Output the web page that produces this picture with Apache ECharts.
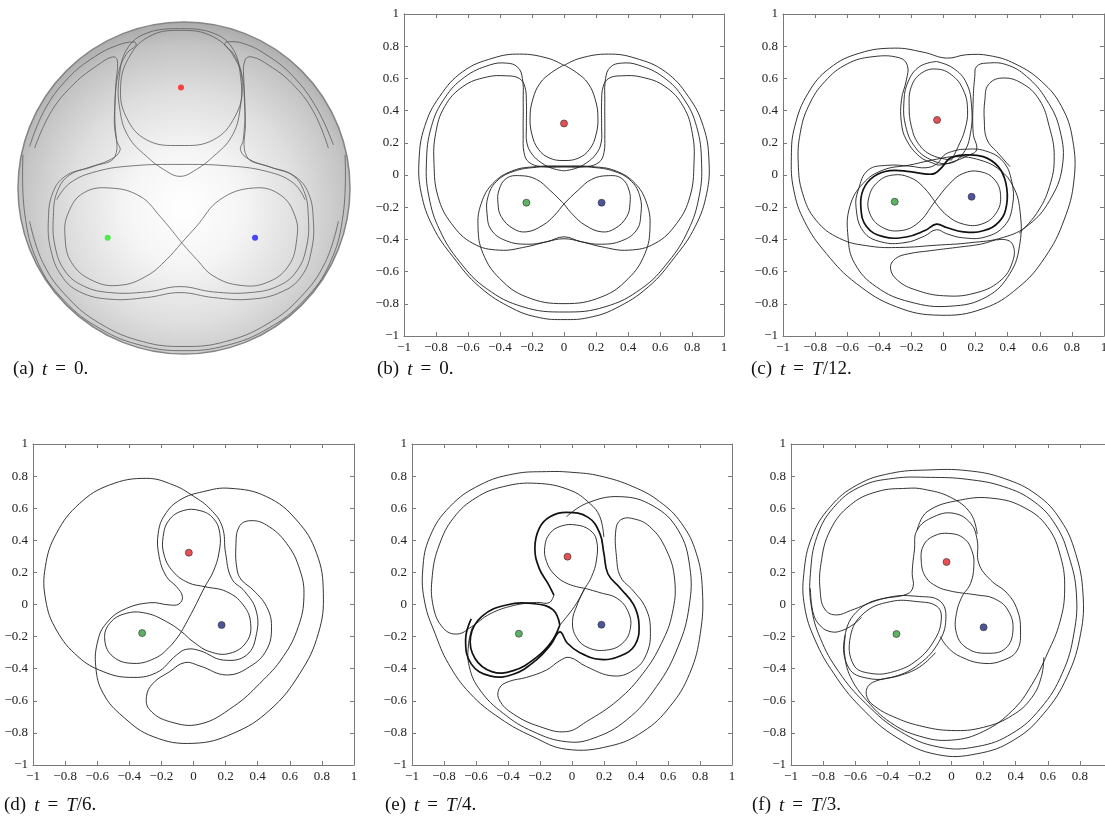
<!DOCTYPE html>
<html>
<head>
<meta charset="utf-8">
<script src="https://cdn.jsdelivr.net/npm/echarts@6/dist/echarts.min.js"></script>
<style>
  html, body { margin: 0; background: #fff; overflow: hidden; }
  #main { width: 1130px; height: 820px; }
</style>
</head>
<body>
<div id="main"></div>
<script>
// captions
const captionLetters = ['a', 'b', 'c', 'd', 'e', 'f']
const captionTimes = ['0', '0', 'T/12', 'T/6', 'T/4', 'T/3']

// (a) sphere view, unit radius
const sphere = [0, 0, 1]
const aRedLoop = [[-0.024,0.95],[0.177,0.91],[0.307,0.78],[0.351,0.61],[0.307,0.43],[0.177,0.29],[-0.024,0.256],[-0.225,0.29],[-0.349,0.43],[-0.382,0.61],[-0.335,0.78],[-0.215,0.91],[-0.024,0.95]]
const aVLoop = [[-0.024,0.96],[-0.205,0.94],[-0.335,0.85],[-0.39,0.67],[-0.386,0.47],[-0.335,0.31],[-0.225,0.19],[-0.104,0.1],[-0.024,0.07],[0.056,0.1],[0.177,0.19],[0.287,0.31],[0.337,0.47],[0.341,0.67],[0.287,0.85],[0.157,0.94],[-0.024,0.96]]
const aOmega = [[-0.93,0.25],[-0.84,0.47],[-0.7,0.66],[-0.54,0.79],[-0.4,0.86],[-0.3,0.88],[-0.289,0.86],[-0.345,0.81],[-0.396,0.69],[-0.416,0.49],[-0.406,0.29],[-0.386,0.226],[-0.446,0.17],[-0.586,0.12],[-0.717,0.07],[-0.791,-0.03],[-0.817,-0.19],[-0.803,-0.37],[-0.737,-0.53],[-0.627,-0.626],[-0.446,-0.67],[-0.225,-0.66],[-0.024,-0.63],[0.177,-0.66],[0.398,-0.67],[0.588,-0.626],[0.709,-0.53],[0.769,-0.37],[0.779,-0.19],[0.749,-0.03],[0.669,0.07],[0.538,0.12],[0.398,0.17],[0.341,0.226],[0.357,0.29],[0.367,0.49],[0.347,0.69],[0.297,0.81],[0.247,0.86],[0.257,0.88],[0.36,0.87],[0.5,0.8],[0.66,0.67],[0.8,0.48],[0.9,0.26]]
const aOmega2 = [[-0.9,0.24],[-0.8,0.46],[-0.66,0.63],[-0.52,0.74],[-0.43,0.79],[-0.402,0.77],[-0.41,0.63],[-0.42,0.4],[-0.416,0.19],[-0.546,0.13],[-0.687,0.08],[-0.763,-0.02],[-0.787,-0.17],[-0.777,-0.35],[-0.717,-0.5],[-0.606,-0.59],[-0.446,-0.63],[-0.225,-0.626],[-0.024,-0.594],[0.177,-0.626],[0.398,-0.63],[0.568,-0.59],[0.679,-0.5],[0.739,-0.35],[0.749,-0.17],[0.723,-0.02],[0.649,0.08],[0.508,0.13],[0.378,0.19],[0.37,0.4],[0.361,0.63],[0.367,0.77],[0.408,0.79],[0.51,0.74],[0.65,0.63],[0.78,0.46],[0.87,0.24]]
const aTopLine = [[-0.767,-0.07],[-0.687,0.03],[-0.526,0.1],[-0.305,0.134],[-0.024,0.142],[0.257,0.134],[0.498,0.1],[0.659,0.03],[0.729,-0.07]]
const aFig8 = [[-0.014,-0.33],[-0.145,-0.17],[-0.265,-0.05],[-0.446,0],[-0.606,-0.03],[-0.697,-0.15],[-0.717,-0.29],[-0.677,-0.45],[-0.546,-0.56],[-0.386,-0.586],[-0.225,-0.53],[-0.104,-0.43],[-0.014,-0.33],[0.076,-0.23],[0.217,-0.07],[0.418,0],[0.578,-0.04],[0.669,-0.17],[0.679,-0.31],[0.629,-0.47],[0.498,-0.57],[0.337,-0.586],[0.177,-0.53],[0.076,-0.43],[-0.014,-0.33]]
const aRim1 = [[-0.93,-0.2],[-0.85,-0.45],[-0.7,-0.66],[-0.5,-0.82],[-0.25,-0.925],[0,-0.955],[0.25,-0.925],[0.5,-0.82],[0.7,-0.66],[0.85,-0.45],[0.93,-0.2]]
const aRim2 = [[-0.97,0.2],[-0.96,-0.15],[-0.88,-0.45],[-0.72,-0.68],[-0.5,-0.85],[-0.25,-0.95],[0,-0.98],[0.25,-0.95],[0.5,-0.85],[0.72,-0.68],[0.88,-0.45],[0.96,-0.15],[0.97,0.2]]
const aRed = [-0.018, 0.606]
const aGreen = [-0.46, -0.3]
const aBlue = [0.428, -0.3]

// (b) t = 0
const bHeart = [[0,0.68],[-0.1,0.725],[-0.277,0.751],[-0.444,0.726],[-0.631,0.643],[-0.777,0.488],[-0.871,0.301],[-0.906,0.093],[-0.892,-0.114],[-0.819,-0.322],[-0.694,-0.508],[-0.527,-0.695],[-0.319,-0.83],[-0.152,-0.886],[0,-0.898],[0.152,-0.886],[0.319,-0.83],[0.527,-0.695],[0.694,-0.508],[0.819,-0.322],[0.892,-0.114],[0.906,0.093],[0.871,0.301],[0.777,0.488],[0.631,0.643],[0.444,0.726],[0.277,0.751],[0.1,0.725],[0,0.68]]
const bLens = [[0,0.683],[-0.08,0.635],[-0.15,0.57],[-0.195,0.47],[-0.212,0.36],[-0.2,0.25],[-0.16,0.16],[-0.09,0.105],[0,0.09],[0.09,0.105],[0.16,0.16],[0.2,0.25],[0.212,0.36],[0.195,0.47],[0.15,0.57],[0.08,0.635],[0,0.683]]
const bRing2 = [[0,0.05],[-0.14,0.052],[-0.22,0.08],[-0.25,0.14],[-0.255,0.25],[-0.255,0.45],[-0.26,0.6],[-0.29,0.67],[-0.36,0.695],[-0.465,0.683],[-0.621,0.608],[-0.746,0.477],[-0.829,0.3],[-0.86,0.073],[-0.844,-0.135],[-0.777,-0.342],[-0.652,-0.539],[-0.485,-0.705],[-0.256,-0.819],[0,-0.851],[0.256,-0.819],[0.485,-0.705],[0.652,-0.539],[0.777,-0.342],[0.844,-0.135],[0.86,0.073],[0.829,0.3],[0.746,0.477],[0.621,0.608],[0.465,0.683],[0.36,0.695],[0.29,0.67],[0.26,0.6],[0.255,0.45],[0.255,0.25],[0.25,0.14],[0.22,0.08],[0.14,0.052],[0,0.05]]
const bRing3 = [[0,0.026],[-0.07,0.04],[-0.14,0.075],[-0.2,0.13],[-0.232,0.2],[-0.235,0.3],[-0.235,0.45],[-0.245,0.55],[-0.28,0.6],[-0.36,0.616],[-0.485,0.608],[-0.631,0.55],[-0.746,0.425],[-0.802,0.259],[-0.8125,0.073],[-0.787,-0.135],[-0.704,-0.301],[-0.569,-0.425],[-0.402,-0.467],[-0.235,-0.446],[-0.11,-0.415],[0,-0.396],[0.11,-0.415],[0.235,-0.446],[0.402,-0.467],[0.569,-0.425],[0.704,-0.301],[0.787,-0.135],[0.8125,0.073],[0.802,0.259],[0.746,0.425],[0.631,0.55],[0.485,0.608],[0.36,0.616],[0.28,0.6],[0.245,0.55],[0.235,0.45],[0.235,0.3],[0.232,0.2],[0.2,0.13],[0.14,0.075],[0.07,0.04],[0,0.026]]
const bPeanut = [[0,0.052],[-0.173,0.048],[-0.319,0.021],[-0.423,-0.041],[-0.475,-0.135],[-0.481,-0.239],[-0.454,-0.342],[-0.36,-0.409],[-0.235,-0.43],[-0.11,-0.415],[0,-0.384],[0.11,-0.415],[0.235,-0.43],[0.36,-0.409],[0.454,-0.342],[0.481,-0.239],[0.475,-0.135],[0.423,-0.041],[0.319,0.021],[0.173,0.048],[0,0.052]]
const bLower = [[0,0.056],[-0.173,0.052],[-0.319,0.027],[-0.444,-0.052],[-0.517,-0.176],[-0.5375,-0.322],[-0.506,-0.488],[-0.402,-0.643],[-0.235,-0.757],[0,-0.799],[0.235,-0.757],[0.402,-0.643],[0.506,-0.488],[0.5375,-0.322],[0.517,-0.176],[0.444,-0.052],[0.319,0.027],[0.173,0.052],[0,0.056]]
const bFig8 = [[0,-0.18],[-0.09,-0.093],[-0.173,-0.027],[-0.277,-0.004],[-0.36,-0.021],[-0.406,-0.093],[-0.4125,-0.176],[-0.392,-0.259],[-0.319,-0.332],[-0.235,-0.353],[-0.131,-0.311],[-0.058,-0.249],[0,-0.18],[0.09,-0.093],[0.173,-0.027],[0.277,-0.004],[0.36,-0.021],[0.406,-0.093],[0.4125,-0.176],[0.392,-0.259],[0.319,-0.332],[0.235,-0.353],[0.131,-0.311],[0.058,-0.249],[0,-0.18]]
const bRed = [0, 0.32]
const bGreen = [-0.235, -0.172]
const bBlue = [0.235, -0.172]

// (c) t = T/12
const cOuter = [[-0.304,0.788],[-0.522,0.757],[-0.709,0.664],[-0.844,0.508],[-0.927,0.301],[-0.948,0.114],[-0.933,-0.093],[-0.865,-0.29],[-0.73,-0.488],[-0.543,-0.674],[-0.293,-0.819],[-0.023,-0.871],[0.247,-0.83],[0.466,-0.699],[0.632,-0.512],[0.751,-0.28],[0.813,-0.031],[0.805,0.218],[0.736,0.425],[0.611,0.581],[0.445,0.691],[0.289,0.741],[0.143,0.747],[0.019,0.726],[-0.127,0.763],[-0.304,0.788]]
const cRing3 = [[-0.023,0.062],[-0.064,0.073],[-0.148,0.114],[-0.231,0.218],[-0.262,0.322],[-0.262,0.467],[-0.231,0.591],[-0.225,0.68],[-0.275,0.728],[-0.439,0.735],[-0.6,0.69],[-0.74,0.58],[-0.84,0.43],[-0.893,0.259],[-0.905,0.073],[-0.878,-0.114],[-0.795,-0.28],[-0.647,-0.394],[-0.459,-0.442],[-0.272,-0.45],[-0.044,-0.436],[0.164,-0.421],[0.372,-0.388],[0.53,-0.31],[0.66,-0.16],[0.74,0.05],[0.725,0.28],[0.64,0.47],[0.518,0.612],[0.393,0.685],[0.268,0.695],[0.206,0.674],[0.195,0.612],[0.185,0.467],[0.185,0.259],[0.206,0.156],[0.15,0.12],[0.08,0.09],[-0.023,0.062]]
const cLens = [[-0.044,0.705],[-0.148,0.674],[-0.22,0.581],[-0.247,0.446],[-0.235,0.301],[-0.179,0.176],[-0.085,0.098],[0.04,0.073],[0.123,0.135],[0.168,0.259],[0.175,0.425],[0.143,0.571],[0.06,0.664],[-0.044,0.705]]
const cRedLoop = [[0.05,0.093],[0.091,0.176],[0.133,0.28],[0.15,0.405],[0.123,0.529],[0.05,0.622],[-0.044,0.658],[-0.137,0.633],[-0.2,0.55],[-0.214,0.425],[-0.2,0.301],[-0.158,0.197],[-0.075,0.124],[0.05,0.093]]
const cFig8 = [[-0.054,-0.166],[-0.127,-0.073],[-0.21,-0.015],[-0.314,0],[-0.407,-0.041],[-0.464,-0.135],[-0.459,-0.239],[-0.387,-0.322],[-0.272,-0.346],[-0.158,-0.297],[-0.054,-0.166],[0.04,-0.052],[0.123,0.01],[0.227,0.021],[0.32,-0.031],[0.356,-0.135],[0.326,-0.239],[0.237,-0.305],[0.123,-0.305],[0.019,-0.249],[-0.054,-0.166]]
const cBold = [[-0.5,-0.09],[-0.435,-0.01],[-0.335,0.027],[-0.21,0.021],[-0.106,0.006],[-0.054,0.01],[-0.006,0.052],[0.04,0.104],[0.123,0.124],[0.247,0.114],[0.341,0.052],[0.389,-0.052],[0.393,-0.187],[0.347,-0.29],[0.247,-0.346],[0.123,-0.353],[0.019,-0.326],[-0.044,-0.305],[-0.116,-0.345],[-0.231,-0.385],[-0.376,-0.383],[-0.48,-0.32],[-0.515,-0.2],[-0.5,-0.09]]
const cThin = [[-0.53,-0.09],[-0.47,0.03],[-0.35,0.06],[-0.21,0.055],[-0.11,0.045],[-0.04,0.07],[0,0.12],[0.05,0.145],[0.13,0.16],[0.26,0.15],[0.37,0.085],[0.425,-0.04],[0.43,-0.19],[0.38,-0.315],[0.26,-0.385],[0.12,-0.39],[0.02,-0.365],[-0.045,-0.34],[-0.12,-0.38],[-0.24,-0.42],[-0.39,-0.415],[-0.5,-0.35],[-0.545,-0.2],[-0.53,-0.09]]
const cLower = [[-0.584,-0.197],[-0.595,-0.384],[-0.553,-0.55],[-0.418,-0.695],[-0.21,-0.788],[0.04,-0.815],[0.268,-0.757],[0.414,-0.612],[0.476,-0.425],[0.476,-0.218],[0.435,-0.073],[0.351,0.031],[0.227,0.093],[0.081,0.114],[-0.044,0.098],[-0.21,0.062],[-0.376,0.031],[-0.501,-0.052],[-0.584,-0.197]]
const cKidney = [[-0.33,-0.58],[-0.3,-0.52],[-0.22,-0.49],[-0.08,-0.47],[0.08,-0.45],[0.23,-0.43],[0.36,-0.4],[0.43,-0.43],[0.43,-0.54],[0.35,-0.66],[0.19,-0.735],[0,-0.75],[-0.17,-0.715],[-0.285,-0.655],[-0.33,-0.58]]
const cBean = [[0.414,0.052],[0.341,0.135],[0.272,0.218],[0.254,0.342],[0.258,0.467],[0.279,0.56],[0.362,0.602],[0.486,0.571],[0.597,0.467],[0.659,0.301],[0.69,0.114],[0.66,-0.073],[0.58,-0.239],[0.47,-0.363]]
const cRed = [-0.04, 0.342]
const cGreen = [-0.304, -0.166]
const cBlue = [0.175, -0.135]

// (d) t = T/6
const dLeft = [[-0.293,0.786],[-0.522,0.745],[-0.709,0.63],[-0.854,0.443],[-0.923,0.236],[-0.921,0.028],[-0.854,-0.159],[-0.719,-0.325],[-0.563,-0.418],[-0.397,-0.454],[-0.231,-0.425],[-0.106,-0.315],[-0.044,-0.279],[0.04,-0.288],[0.185,-0.346],[0.331,-0.315],[0.393,-0.18],[0.389,-0.034],[0.32,0.08],[0.237,0.163],[0.2,0.319],[0.179,0.485],[0.106,0.593],[-0.002,0.676],[-0.127,0.745],[-0.293,0.786]]
const dRight = [[0.227,0.724],[0.455,0.672],[0.642,0.526],[0.767,0.319],[0.809,0.07],[0.778,-0.18],[0.663,-0.429],[0.476,-0.657],[0.247,-0.803],[-0.002,-0.865],[-0.252,-0.823],[-0.439,-0.699],[-0.563,-0.553],[-0.609,-0.387],[-0.595,-0.221],[-0.543,-0.117],[-0.439,-0.034],[-0.272,0.011],[-0.148,-0.003],[-0.091,0.003],[-0.069,0.049],[-0.106,0.111],[-0.168,0.173],[-0.214,0.298],[-0.22,0.443],[-0.179,0.558],[-0.085,0.651],[0.06,0.703],[0.227,0.724]]
const dTrefoil = [[-0.075,-0.169],[-0.002,-0.034],[0.071,0.111],[0.123,0.205],[0.158,0.319],[0.164,0.443],[0.123,0.537],[0.04,0.585],[-0.064,0.585],[-0.152,0.526],[-0.189,0.423],[-0.183,0.308],[-0.127,0.205],[-0.033,0.136],[0.071,0.111],[0.206,0.08],[0.31,-0.003],[0.356,-0.117],[0.331,-0.232],[0.227,-0.304],[0.102,-0.294],[-0.002,-0.232],[-0.075,-0.169],[-0.168,-0.107],[-0.293,-0.055],[-0.418,-0.055],[-0.522,-0.117],[-0.553,-0.221],[-0.501,-0.325],[-0.376,-0.367],[-0.241,-0.335],[-0.148,-0.263],[-0.075,-0.169]]
const dBean = [[0.272,0.215],[0.264,0.36],[0.285,0.485],[0.351,0.522],[0.455,0.495],[0.58,0.381],[0.663,0.215],[0.688,0.049],[0.653,-0.138],[0.559,-0.325],[0.414,-0.491],[0.247,-0.637],[0.04,-0.745],[-0.148,-0.73],[-0.272,-0.657],[-0.293,-0.574],[-0.252,-0.491],[-0.148,-0.418],[-0.054,-0.362],[0.04,-0.383],[0.206,-0.439],[0.351,-0.387],[0.455,-0.283],[0.486,-0.138],[0.455,-0.013],[0.372,0.09],[0.299,0.153],[0.272,0.215]]
const dRed = [-0.029, 0.323]
const dGreen = [-0.32, -0.178]
const dBlue = [0.175, -0.128]

// (e) t = T/4
const eOuter = [[-0.159,0.828],[-0.367,0.813],[-0.575,0.745],[-0.763,0.61],[-0.888,0.423],[-0.933,0.215],[-0.919,0.007],[-0.856,-0.18],[-0.773,-0.367],[-0.638,-0.553],[-0.45,-0.709],[-0.243,-0.824],[-0.034,-0.902],[0.236,-0.882],[0.444,-0.792],[0.611,-0.637],[0.736,-0.429],[0.802,-0.18],[0.815,0.09],[0.777,0.319],[0.684,0.506],[0.548,0.641],[0.382,0.734],[0.174,0.801],[0.007,0.823],[-0.159,0.828]]
const eSweepTop = [[0.199,0.42],[0.174,0.547],[0.111,0.63],[-0.014,0.713],[-0.222,0.755],[-0.43,0.734],[-0.6,0.665],[-0.74,0.54],[-0.83,0.37],[-0.873,0.18],[-0.867,-0.013],[-0.804,-0.148],[-0.717,-0.184],[-0.627,-0.138],[-0.513,-0.059],[-0.367,-0.007],[-0.222,0.013],[-0.143,0.011],[-0.113,0.059]]
const eSweepBold = [[-0.113,0.059],[-0.149,0.128],[-0.205,0.225],[-0.232,0.35],[-0.205,0.475],[-0.138,0.547],[-0.034,0.574],[0.101,0.543],[0.174,0.443],[0.199,0.32],[0.225,0.19],[0.303,0.1],[0.386,-0.003],[0.419,-0.128],[0.393,-0.253],[0.305,-0.319],[0.176,-0.342],[0.049,-0.3],[-0.03,-0.24],[-0.076,-0.17],[-0.133,-0.25],[-0.222,-0.345],[-0.367,-0.435],[-0.513,-0.445],[-0.63,-0.37],[-0.665,-0.22],[-0.63,-0.09]]
const eRedLoop = [[0.08,0.101],[0.122,0.173],[0.153,0.277],[0.153,0.402],[0.111,0.464],[0.028,0.495],[-0.066,0.489],[-0.138,0.443],[-0.17,0.36],[-0.159,0.267],[-0.107,0.184],[-0.024,0.128],[0.08,0.101]]
const eBlueLoop = [[0.08,0.101],[0.174,0.074],[0.282,0.038],[0.351,-0.045],[0.365,-0.148],[0.315,-0.242],[0.215,-0.284],[0.101,-0.269],[0.028,-0.205],[0.003,-0.107],[0.032,-0.003],[0.08,0.101]]
const eDiag = [[0.08,0.101],[0.028,0.007],[-0.024,-0.065],[-0.076,-0.128]]
const eGreenLoop = [[-0.076,-0.128],[-0.118,-0.034],[-0.222,0.003],[-0.409,-0.003],[-0.565,-0.076],[-0.634,-0.2],[-0.607,-0.335],[-0.502,-0.418],[-0.367,-0.412],[-0.222,-0.329],[-0.128,-0.232],[-0.076,-0.128]]
const eRight = [[-0.034,0.547],[0.09,0.63],[0.299,0.672],[0.507,0.614],[0.663,0.464],[0.736,0.236],[0.732,-0.013],[0.663,-0.263],[0.528,-0.512],[0.34,-0.72],[0.132,-0.834],[-0.034,-0.855],[-0.243,-0.792],[-0.43,-0.678],[-0.575,-0.533],[-0.642,-0.387],[-0.646,-0.242],[-0.621,-0.138]]
const eCrescent = [[0.278,0.298],[0.274,0.464],[0.303,0.526],[0.372,0.537],[0.486,0.485],[0.59,0.339],[0.642,0.152],[0.627,-0.055],[0.559,-0.242],[0.444,-0.429],[0.288,-0.595],[0.09,-0.73],[-0.034,-0.792],[-0.201,-0.761],[-0.367,-0.682],[-0.454,-0.595],[-0.454,-0.522],[-0.398,-0.481],[-0.284,-0.454],[-0.159,-0.408],[-0.076,-0.35],[-0.014,-0.33],[0.09,-0.387],[0.257,-0.445],[0.382,-0.41],[0.465,-0.31],[0.49,-0.159],[0.461,-0.023],[0.382,0.086],[0.303,0.173],[0.278,0.298]]
const eRed = [-0.028, 0.298]
const eGreen = [-0.332, -0.182]
const eBlue = [0.184, -0.126]

// (f) t = T/3
const fOuter = [[-0.152,0.838],[-0.38,0.817],[-0.588,0.745],[-0.755,0.609],[-0.869,0.423],[-0.92,0.194],[-0.915,-0.014],[-0.85,-0.221],[-0.734,-0.429],[-0.568,-0.637],[-0.339,-0.83],[-0.089,-0.935],[0.16,-0.93],[0.389,-0.844],[0.576,-0.678],[0.721,-0.449],[0.805,-0.179],[0.819,0.07],[0.773,0.319],[0.68,0.526],[0.534,0.682],[0.326,0.786],[0.098,0.834],[-0.152,0.838]]
const fRing2 = [[-0.36,0.786],[-0.568,0.734],[-0.734,0.605],[-0.838,0.423],[-0.879,0.194],[-0.873,-0.014],[-0.817,-0.211],[-0.703,-0.418],[-0.536,-0.615],[-0.318,-0.792],[-0.079,-0.888],[0.16,-0.885],[0.378,-0.803],[0.555,-0.647],[0.69,-0.429],[0.763,-0.179],[0.778,0.07],[0.732,0.298],[0.649,0.495],[0.514,0.641],[0.326,0.734],[0.098,0.78],[-0.131,0.792],[-0.36,0.786]]
const fSweep = [[0.16,0.44],[0.119,0.568],[-0.006,0.668],[-0.173,0.718],[-0.277,0.724],[-0.464,0.703],[-0.63,0.62],[-0.755,0.464],[-0.813,0.256],[-0.817,0.07],[-0.786,-0.034],[-0.717,-0.065],[-0.63,-0.038],[-0.443,0.032],[-0.277,0.065],[-0.239,0.111],[-0.245,0.194],[-0.231,0.34],[-0.214,0.464],[-0.11,0.547],[0.015,0.568],[0.119,0.506],[0.16,0.402],[0.17,0.256],[0.243,0.153],[0.347,0.07],[0.41,-0.034],[0.43,-0.159],[0.41,-0.284],[0.326,-0.346],[0.202,-0.367],[0.056,-0.325],[-0.027,-0.263],[-0.069,-0.2]]
const fRedLoop = [[0.077,0.07],[0.119,0.132],[0.139,0.236],[0.129,0.329],[0.077,0.412],[-0.017,0.443],[-0.11,0.427],[-0.173,0.371],[-0.189,0.277],[-0.162,0.173],[-0.089,0.111],[-0.006,0.084],[0.077,0.07]]
const fBlueLoop = [[0.077,0.07],[0.035,-0.034],[0.031,-0.18],[0.098,-0.273],[0.222,-0.304],[0.337,-0.273],[0.383,-0.159],[0.351,-0.034],[0.264,0.038],[0.16,0.059],[0.077,0.07]]
const fGreenLoop = [[-0.63,-0.2],[-0.547,-0.055],[-0.38,0.018],[-0.214,0.018],[-0.089,-0.013],[-0.064,-0.097],[-0.106,-0.221],[-0.214,-0.346],[-0.36,-0.418],[-0.505,-0.429],[-0.609,-0.377],[-0.63,-0.2]]
const fGreenLoop2 = [[-0.665,-0.2],[-0.575,-0.03],[-0.39,0.045],[-0.2,0.05],[-0.07,0.02],[-0.035,-0.09],[-0.08,-0.235],[-0.2,-0.37],[-0.36,-0.45],[-0.52,-0.46],[-0.64,-0.395],[-0.665,-0.2]]
const fHook = [[-0.879,0.1],[-0.86,-0.06],[-0.81,-0.14],[-0.75,-0.17],[-0.69,-0.165],[-0.62,-0.13],[-0.56,-0.08]]
const fRight = [[-0.214,0.464],[-0.152,0.578],[0.056,0.651],[0.264,0.661],[0.451,0.605],[0.597,0.485],[0.68,0.298],[0.705,0.09],[0.675,-0.11],[0.6,-0.3],[0.5,-0.5],[0.38,-0.66],[0.2,-0.79],[0,-0.845],[-0.2,-0.82],[-0.38,-0.735],[-0.526,-0.6],[-0.63,-0.45],[-0.667,-0.3],[-0.661,-0.19]]
const fKidney = [[-0.1,-0.3],[-0.2,-0.39],[-0.33,-0.445],[-0.45,-0.47],[-0.52,-0.51],[-0.525,-0.58],[-0.47,-0.64],[-0.36,-0.7],[-0.2,-0.755],[0,-0.785],[0.2,-0.765],[0.38,-0.69],[0.5,-0.58],[0.56,-0.45],[0.575,-0.33]]
const fRed = [-0.031, 0.265]
const fGreen = [-0.343, -0.184]
const fBlue = [0.2, -0.142]

const axisMin = -1
const axisMax = 1
const tickStep = 0.2

// grid index per panel: 0 = sphere, 1..5 = (b)..(f)
// smooth closed streamlines
const panelLoops = [
  [aRedLoop],
  [bRing2, bPeanut, bLower],
  [cOuter, cRing3, cThin, cLower, cKidney],
  [dLeft, dRight, dBean],
  [eOuter, eCrescent],
  [fOuter, fRing2, fGreenLoop, fGreenLoop2]
]
// open paths; their end points are the saddles / crossings
const panelPaths = [
  [aRim2, aRim1, aOmega, aOmega2, aTopLine, aVLoop, aFig8],
  [bHeart, bLens, bRing3, bFig8],
  [cLens, cRedLoop, cFig8, cBean],
  [dTrefoil],
  [eSweepTop, eRedLoop, eBlueLoop, eDiag, eRight],
  [fSweep, fRedLoop, fBlueLoop, fHook, fRight, fKidney]
]
const panelBoldLoops = [[], [], [cBold], [], [], []]
const panelBoldPaths = [[], [], [], [], [eSweepBold, eGreenLoop], []]
const panelDots = [
  [aRed, aGreen, aBlue],
  [bRed, bGreen, bBlue],
  [cRed, cGreen, cBlue],
  [dRed, dGreen, dBlue],
  [eRed, eGreen, eBlue],
  [fRed, fGreen, fBlue]
]

const chart = echarts.init(document.getElementById('main'))

// the page is 1105 wide; panel (f) runs past the right edge as in the figure
const grids = [
  { left: 18, top: 22, width: 332, height: 332 },
  { left: 404, top: 14, width: 320, height: 322 },
  { left: 783, top: 14, width: 321, height: 322 },
  { left: 33, top: 444, width: 321, height: 321 },
  { left: 412, top: 444, width: 320, height: 321 },
  { left: 791, top: 444, width: 321, height: 321 }
]

const serif = '"Liberation Serif", "DejaVu Serif", serif'
const boxColor = '#7a7a7a'

function fmt(v) {
  const r = Math.round(v * 10) / 10
  return String(r).replace('-', '\u2212')
}

function mkAxis(gi, pos, labels) {
  return {
    type: 'value', gridIndex: gi, position: pos,
    min: axisMin, max: axisMax, interval: tickStep,
    axisLine: { show: true, onZero: false, lineStyle: { color: boxColor, width: 1 } },
    axisTick: { show: true, inside: true, length: 4, lineStyle: { color: boxColor } },
    splitLine: { show: false },
    axisLabel: {
      show: labels, color: '#222', fontFamily: serif, fontSize: 13,
      margin: 5, formatter: fmt, showMinLabel: true, showMaxLabel: true, hideOverlap: false
    }
  }
}

const xAxes = []
const yAxes = []
// sphere frame: hidden axes
xAxes.push({ type: 'value', gridIndex: 0, min: axisMin, max: axisMax, show: false })
yAxes.push({ type: 'value', gridIndex: 0, min: axisMin, max: axisMax, show: false })
for (let gi = 1; gi <= 5; gi++) {
  xAxes.push(mkAxis(gi, 'bottom', true))
  yAxes.push(mkAxis(gi, 'left', true))
}
for (let gi = 1; gi <= 5; gi++) {
  xAxes.push(mkAxis(gi, 'top', false))
  yAxes.push(mkAxis(gi, 'right', false))
}

// a streamline: points go through the axes, drawn as one smooth path
function curveSeries(pts, gi, color, width, loop) {
  return {
    type: 'custom', xAxisIndex: gi, yAxisIndex: gi, data: pts,
    silent: true, animation: false, z: 3, clip: true,
    renderItem: function (params, api) {
      if (params.dataIndex !== 0) return null
      const px = pts.map(function (p) { return api.coord(p) })
      if (loop) px.pop()
      return {
        type: loop ? 'polygon' : 'polyline',
        shape: { points: px, smooth: 0.42 },
        style: { fill: 'none', stroke: color, lineWidth: width }
      }
    }
  }
}

const series = []

// shaded sphere
series.push({
  type: 'custom', xAxisIndex: 0, yAxisIndex: 0, data: [sphere], silent: true, z: 1,
  animation: false,
  renderItem: function (params, api) {
    const c = api.coord([api.value(0), api.value(1)])
    const r = api.size([api.value(2), 0])[0]
    return {
      type: 'circle',
      shape: { cx: c[0], cy: c[1], r: r },
      style: {
        fill: new echarts.graphic.RadialGradient(0.5, 0.56, 0.58, [
          { offset: 0, color: '#ffffff' },
          { offset: 0.3, color: '#f5f5f5' },
          { offset: 0.6, color: '#dedede' },
          { offset: 0.85, color: '#c3c3c3' },
          { offset: 1, color: '#a3a3a3' }
        ]),
        stroke: '#858585',
        lineWidth: 1.5
      }
    }
  }
})

for (let gi = 0; gi < 6; gi++) {
  const col = gi === 0 ? '#5a5a5a' : '#1e1e1e'
  const w = gi === 0 ? 0.8 : 0.9
  panelLoops[gi].forEach(function (pts) { series.push(curveSeries(pts, gi, col, w, true)) })
  panelPaths[gi].forEach(function (pts) { series.push(curveSeries(pts, gi, col, w, false)) })
  panelBoldLoops[gi].forEach(function (pts) { series.push(curveSeries(pts, gi, '#111', 1.7, true)) })
  panelBoldPaths[gi].forEach(function (pts) { series.push(curveSeries(pts, gi, '#111', 1.7, false)) })
}

const dotColors = ['#e0242b', '#34a03c', '#1f2a82']
const sphereDotColors = ['#ff1a1a', '#22ee22', '#1a1aff']
panelDots.forEach(function (dots, gi) {
  series.push({
    type: 'scatter', xAxisIndex: gi, yAxisIndex: gi, silent: true, animation: false, z: 5,
    symbolSize: gi === 0 ? 6 : 7,
    data: dots.map(function (p, k) {
      return {
        value: p,
        itemStyle: gi === 0
          ? { color: sphereDotColors[k] }
          : { color: dotColors[k], borderColor: '#333', borderWidth: 0.8 }
      }
    })
  })
})

// captions like "(a) t = 0."
const captionPos = [[13, 360], [377, 360], [751, 360], [4, 796], [385, 796], [752, 796]]
const capStyle = { fontFamily: serif, fontSize: 19, fill: '#111' }
const graphic = captionLetters.map(function (l, k) {
  const t = captionTimes[k]
  const timeRich = t.indexOf('T') === 0 ? '{i|T}{n|' + t.slice(1) + '.}' : '{n|' + t + '.}'
  return {
    type: 'text', left: captionPos[k][0], top: captionPos[k][1], silent: true,
    style: {
      text: '{n|(' + l + ')}{s|}{i|t}{e|=}' + timeRich,
      rich: {
        n: capStyle,
        s: { width: 8 },
        i: Object.assign({}, capStyle, { fontStyle: 'italic' }),
        e: Object.assign({}, capStyle, { padding: [0, 8] })
      }
    }
  }
})

chart.setOption({
  backgroundColor: '#ffffff',
  animation: false,
  grid: grids,
  xAxis: xAxes,
  yAxis: yAxes,
  series: series,
  graphic: graphic
})
</script>
</body>
</html>
